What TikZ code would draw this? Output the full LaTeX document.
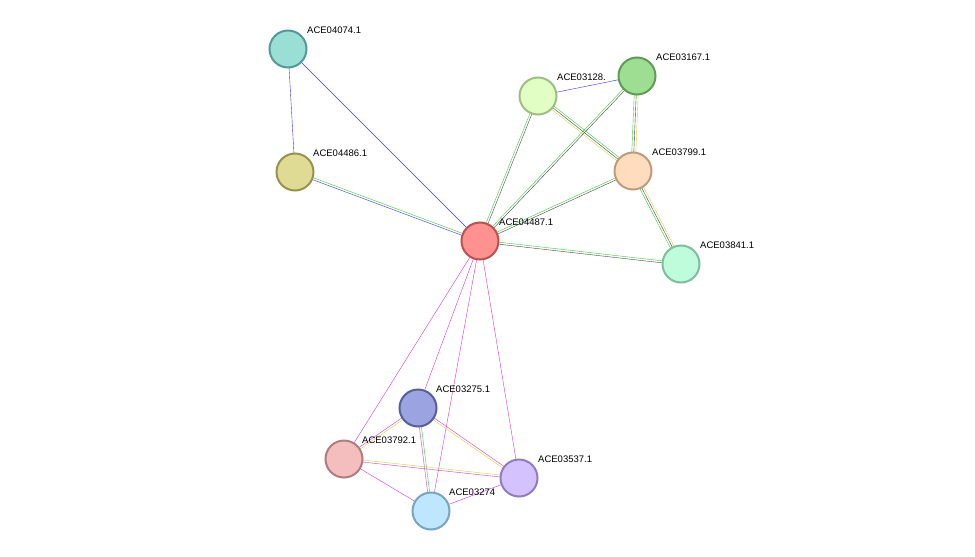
\documentclass[tikz,border=0pt]{standalone}
\usepackage{fontspec}
\setmainfont{Liberation Sans}
\usetikzlibrary{calc,backgrounds}
\definecolor{eblu}{HTML}{3333FF}
\definecolor{egrn}{HTML}{33CC33}
\definecolor{eblk}{HTML}{444444}
\definecolor{eyel}{HTML}{C8D832}
\definecolor{emag}{HTML}{D633D6}
\newcommand{\ed}[4]{\draw[color=#4] ($(#1)!#3!90:(#2)$) -- ($(#2)!#3!-90:(#1)$);}
\begin{document}
\begin{tikzpicture}[x=1pt,y=-1pt,
  prot/.style={circle,minimum size=37pt,inner sep=0pt,line width=2pt},
  lab/.style={font=\fontsize{9.5}{10}\selectfont,anchor=south west,inner sep=0pt},
  e/.style={line width=1.1pt}]
\useasboundingbox (0,0) rectangle (975,557);
\node[prot,fill={rgb,255:red,154;green,223;blue,214},draw={rgb,255:red,84;green,153;blue,150}] (n1) at (288,49) {};
\node[prot,fill={rgb,255:red,223;green,219;blue,148},draw={rgb,255:red,150;green,146;blue,80}] (n2) at (295,172) {};
\node[prot,fill={rgb,255:red,255;green,145;blue,145},draw={rgb,255:red,190;green,80;blue,80}] (c) at (480,241) {};
\node[prot,fill={rgb,255:red,225;green,255;blue,196},draw={rgb,255:red,160;green,190;blue,130}] (n3) at (538,96) {};
\node[prot,fill={rgb,255:red,158;green,222;blue,146},draw={rgb,255:red,95;green,155;blue,85}] (n4) at (637,76) {};
\node[prot,fill={rgb,255:red,255;green,220;blue,190},draw={rgb,255:red,190;green,155;blue,125}] (n5) at (633,171) {};
\node[prot,fill={rgb,255:red,190;green,252;blue,220},draw={rgb,255:red,125;green,190;blue,155}] (n6) at (681,264) {};
\node[prot,fill={rgb,255:red,155;green,163;blue,224},draw={rgb,255:red,85;green,95;blue,155}] (n7) at (418,408) {};
\node[prot,fill={rgb,255:red,245;green,190;blue,190},draw={rgb,255:red,175;green,125;blue,125}] (n8) at (344,459) {};
\node[prot,fill={rgb,255:red,190;green,230;blue,255},draw={rgb,255:red,120;green,165;blue,190}] (n9) at (431,511) {};
\node[prot,fill={rgb,255:red,212;green,194;blue,255},draw={rgb,255:red,145;green,125;blue,190}] (n10) at (519,478) {};
\node[lab] at (307,34) {ACE04074.1};
\node[lab] at (313,157) {ACE04486.1};
\node[lab] at (499,226) {ACE04487.1};
\node[lab] at (557,81) {ACE03128.};
\node[lab] at (656,61) {ACE03167.1};
\node[lab] at (652,156) {ACE03799.1};
\node[lab] at (700,249) {ACE03841.1};
\node[lab] at (436,393) {ACE03275.1};
\node[lab] at (362,444) {ACE03792.1};
\node[lab] at (449,496) {ACE03274};
\node[lab] at (538,463) {ACE03537.1};
\begin{scope}[on background layer,e]
\ed{n1}{n2}{0pt}{eblu}
\ed{n1}{c}{0pt}{eblu}
\ed{n2}{c}{1pt}{egrn}\ed{n2}{c}{-1pt}{eblu}
\ed{n3}{n4}{0pt}{eblu}
\ed{n3}{c}{1pt}{eblk}\ed{n3}{c}{-1pt}{egrn}
\ed{n4}{c}{1pt}{eblk}\ed{n4}{c}{-1pt}{egrn}
\ed{n5}{c}{1pt}{eblk}\ed{n5}{c}{-1pt}{egrn}
\ed{n6}{c}{1pt}{eblk}\ed{n6}{c}{-1pt}{egrn}
\ed{n3}{n5}{-2pt}{eyel}\ed{n3}{n5}{0pt}{eblk}\ed{n3}{n5}{2pt}{egrn}
\ed{n4}{n5}{2pt}{eyel}\ed{n4}{n5}{0pt}{eblk}\ed{n4}{n5}{-2pt}{egrn}
\ed{n5}{n6}{2pt}{eyel}\ed{n5}{n6}{0pt}{eblk}\ed{n5}{n6}{-2pt}{egrn}
\ed{c}{n7}{0pt}{emag}\ed{c}{n8}{0pt}{emag}\ed{c}{n9}{0pt}{emag}\ed{c}{n10}{0pt}{emag}
\ed{n7}{n8}{1pt}{eyel}\ed{n7}{n8}{-1pt}{emag}
\ed{n7}{n9}{1pt}{egrn}\ed{n7}{n9}{-1pt}{emag}
\ed{n7}{n10}{1pt}{emag}\ed{n7}{n10}{-1pt}{eyel}
\ed{n8}{n10}{1pt}{eyel}\ed{n8}{n10}{-1pt}{emag}
\ed{n8}{n9}{0pt}{emag}
\ed{n9}{n10}{0pt}{emag}
\end{scope}
\end{tikzpicture}
\end{document}
